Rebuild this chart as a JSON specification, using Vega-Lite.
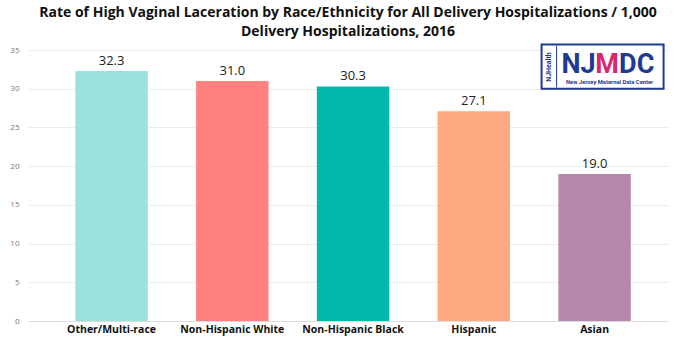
{
  "$schema": "https://vega.github.io/schema/vega-lite/v6.json",
  "autosize": {"type": "none"},
  "width": 640,
  "height": 271,
  "padding": {"left": 28, "top": 50, "right": 32, "bottom": 31},
  "background": "white",
  "title": {
    "text": ["Rate of High Vaginal Laceration by Race/Ethnicity for All Delivery Hospitalizations / 1,000", "Delivery Hospitalizations, 2016"],
    "font": "Open Sans",
    "fontSize": 14,
    "fontWeight": "bold",
    "color": "#111111",
    "anchor": "middle",
    "lineHeight": 19,
    "offset": 5
  },
  "data": {
    "values": [
      {"group": "Other/Multi-race", "rate": 32.3},
      {"group": "Non-Hispanic White", "rate": 31.0},
      {"group": "Non-Hispanic Black", "rate": 30.3},
      {"group": "Hispanic", "rate": 27.1},
      {"group": "Asian", "rate": 19.0}
    ]
  },
  "encoding": {
    "x": {
      "field": "group",
      "type": "nominal",
      "sort": null,
      "scale": {"paddingInner": 0.4, "paddingOuter": 0.35, "align": 0.56},
      "axis": {
        "title": null,
        "labelAngle": 0,
        "labelFont": "Open Sans",
        "labelFontWeight": "bold",
        "labelFontSize": 10.5,
        "labelColor": "#111111",
        "ticks": false,
        "labelPadding": 3,
        "domainColor": "#dddddd",
        "grid": false
      }
    }
  },
  "layer": [
    {
      "mark": {"type": "bar"},
      "encoding": {
        "y": {
          "field": "rate",
          "type": "quantitative",
          "scale": {"domain": [0, 35]},
          "axis": {"title": null, "values": [0, 5, 10, 15, 20, 25, 30, 35]}
        },
        "color": {
          "field": "group",
          "type": "nominal",
          "sort": null,
          "legend": null,
          "scale": {
            "domain": ["Other/Multi-race", "Non-Hispanic White", "Non-Hispanic Black", "Hispanic", "Asian"],
            "range": ["#9ae3dc", "#fe8180", "#01b8aa", "#fea982", "#b887ad"]
          }
        }
      }
    },
    {
      "mark": {"type": "text", "baseline": "bottom", "dy": -3, "font": "Open Sans", "fontSize": 13, "color": "#222222"},
      "encoding": {
        "y": {"field": "rate", "type": "quantitative", "axis": {"title": null, "values": [0, 5, 10, 15, 20, 25, 30, 35]}},
        "text": {"field": "rate", "type": "quantitative", "format": ".1f"}
      }
    },
    {
      "data": {"values": [{"x": "Asian"}]},
      "mark": {"type": "bar", "width": 122, "xOffset": 8, "fill": "white", "stroke": "#1f3a93", "strokeWidth": 2},
      "encoding": {
        "x": {"field": "x", "type": "nominal"},
        "y": {"datum": 35.7, "type": "quantitative", "axis": {"title": null, "values": [0, 5, 10, 15, 20, 25, 30, 35]}},
        "y2": {"datum": 30.0}
      }
    },
    {
      "data": {"values": [{"x": "Asian"}]},
      "mark": {"type": "rule", "xOffset": -38, "stroke": "#1f3a93", "strokeWidth": 1},
      "encoding": {
        "x": {"field": "x", "type": "nominal"},
        "y": {"datum": 35.55, "type": "quantitative", "axis": {"title": null, "values": [0, 5, 10, 15, 20, 25, 30, 35]}},
        "y2": {"datum": 30.15}
      }
    },
    {
      "data": {"values": [{"x": "Asian", "t": "NJ"}]},
      "mark": {"type": "text", "align": "right", "baseline": "alphabetic", "dx": 1, "font": "Roboto", "fontWeight": "bold", "fontSize": 27, "color": "#1f3a93"},
      "encoding": {
        "x": {"field": "x", "type": "nominal"},
        "y": {"datum": 32.03, "type": "quantitative", "axis": {"title": null, "values": [0, 5, 10, 15, 20, 25, 30, 35]}},
        "text": {"field": "t"}
      }
    },
    {
      "data": {"values": [{"x": "Asian", "t": "M"}]},
      "mark": {"type": "text", "align": "center", "baseline": "alphabetic", "dx": 12.6, "font": "Roboto", "fontWeight": "bold", "fontSize": 27, "color": "#d9276b"},
      "encoding": {
        "x": {"field": "x", "type": "nominal"},
        "y": {"datum": 32.03, "type": "quantitative", "axis": {"title": null, "values": [0, 5, 10, 15, 20, 25, 30, 35]}},
        "text": {"field": "t"}
      }
    },
    {
      "data": {"values": [{"x": "Asian", "t": "DC"}]},
      "mark": {"type": "text", "align": "left", "baseline": "alphabetic", "dx": 24.5, "font": "Roboto", "fontWeight": "bold", "fontSize": 27, "color": "#1f3a93"},
      "encoding": {
        "x": {"field": "x", "type": "nominal"},
        "y": {"datum": 32.03, "type": "quantitative", "axis": {"title": null, "values": [0, 5, 10, 15, 20, 25, 30, 35]}},
        "text": {"field": "t"}
      }
    },
    {
      "data": {"values": [{"x": "Asian", "t": "New Jersey Maternal Data Center"}]},
      "mark": {"type": "text", "align": "center", "baseline": "middle", "dx": 15, "font": "Roboto", "fontWeight": "bold", "fontSize": 5.8, "color": "#1f3a93"},
      "encoding": {
        "x": {"field": "x", "type": "nominal"},
        "y": {"datum": 30.87, "type": "quantitative", "axis": {"title": null, "values": [0, 5, 10, 15, 20, 25, 30, 35]}},
        "text": {"field": "t"}
      }
    },
    {
      "data": {"values": [{"x": "Asian", "t": "NJHealth"}]},
      "mark": {"type": "text", "align": "center", "baseline": "middle", "angle": 270, "dy": -46, "font": "Roboto", "fontWeight": "bold", "fontSize": 7, "color": "#1f3a93"},
      "encoding": {
        "x": {"field": "x", "type": "nominal"},
        "y": {"datum": 32.8, "type": "quantitative", "axis": {"title": null, "values": [0, 5, 10, 15, 20, 25, 30, 35]}},
        "text": {"field": "t"}
      }
    }
  ],
  "config": {
    "view": {"stroke": null},
    "axisY": {
      "labelOverlap": false,
      "labelFont": "Open Sans",
      "labelFontSize": 8,
      "labelColor": "#777777",
      "ticks": false,
      "domain": false,
      "labelPadding": 9,
      "gridColor": "#ececec"
    }
  }
}
